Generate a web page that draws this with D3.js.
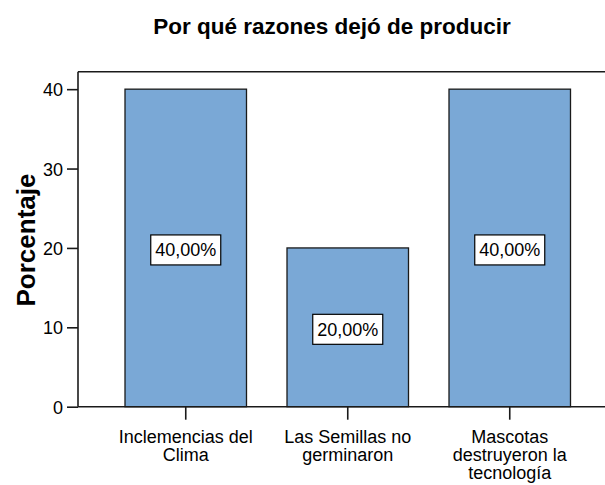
<!DOCTYPE html>
<html><head><meta charset="utf-8">
<script src="https://cdn.jsdelivr.net/npm/d3@7"></script>
<style>body{margin:0;background:#fff}svg{display:block}text{font-family:"Liberation Sans",Arial,sans-serif}</style>
</head><body>
<svg id="c" width="605" height="485"></svg>
<script>
const categories = ["Inclemencias del Clima","Las Semillas no germinaron","Mascotas destruyeron la tecnología"];
const categoryLines = [["Inclemencias del","Clima"],["Las Semillas no","germinaron"],["Mascotas","destruyeron la","tecnología"]];
const values = [40, 20, 40];
const valueLabels = ["40,00%","20,00%","40,00%"];
const yTicks = [0,10,20,30,40];
const title = "Por qué razones dejó de producir";
const yTitle = "Porcentaje";

(function(){
const svg = d3.select("#c");
const pLeft = 78, pTop = 71.7, pBottom = 406.7, pRight = 610;
const y = d3.scaleLinear().domain([0, 42.2]).range([pBottom, pTop]);
const x = d3.scaleBand().domain(categories).range([104.75, 590.75]).paddingInner(0.25).paddingOuter(0.125);

// bars
svg.selectAll("rect.bar").data(values).enter().append("rect")
  .attr("class","bar")
  .attr("x",(d,i)=>x(categories[i]))
  .attr("width",x.bandwidth())
  .attr("y",d=>y(d))
  .attr("height",d=>y(0)-y(d))
  .attr("fill","#7aa8d6").attr("stroke","#1a1a1a").attr("stroke-width",1.3);

// frame
svg.append("line").attr("x1",pLeft).attr("x2",pRight).attr("y1",pTop).attr("y2",pTop).attr("stroke","#1a1a1a").attr("stroke-width",1.6);

// y axis
const ya = svg.append("g").attr("transform",`translate(${pLeft},0)`)
  .call(d3.axisLeft(y).tickValues(yTicks).tickSize(11).tickPadding(4).tickFormat(d3.format("d")));
ya.select(".domain").remove();
ya.append("line").attr("x1",0).attr("x2",0).attr("y1",pTop).attr("y2",pBottom).attr("stroke","#1a1a1a").attr("stroke-width",1.6);
ya.selectAll(".tick line").attr("stroke","#1a1a1a").attr("stroke-width",1.6);
ya.selectAll(".tick text").attr("font-size",18).attr("fill","#000").attr("font-family","Liberation Sans, Arial, sans-serif").attr("dy","0.36em");

// x axis
const xa = svg.append("g").attr("transform",`translate(0,${pBottom})`)
  .call(d3.axisBottom(x).tickSize(13).tickFormat(""));
xa.select(".domain").remove();
xa.append("line").attr("x1",pLeft).attr("x2",pRight).attr("y1",0).attr("y2",0).attr("stroke","#1a1a1a").attr("stroke-width",1.6);
xa.selectAll(".tick line").attr("stroke","#1a1a1a").attr("stroke-width",1.6);

// x labels
categories.forEach((c,i)=>{
  categoryLines[i].forEach((ln,j)=>{
    svg.append("text").attr("text-anchor","middle").attr("font-size",18).attr("fill","#000")
      .attr("x",x(c)+x.bandwidth()/2).attr("y",443+j*17.8).text(ln);
  });
});

// value labels
values.forEach((v,i)=>{
  const cx = x(categories[i])+x.bandwidth()/2, cy = y(v/2)+2;
  const g = svg.append("g");
  g.append("rect").attr("x",cx-35).attr("y",cy-15).attr("width",70).attr("height",30).attr("fill","#fff").attr("stroke","#000").attr("stroke-width",1.2);
  g.append("text").attr("x",cx).attr("y",cy+6.5).attr("text-anchor","middle").attr("font-size",18).attr("fill","#000").text(valueLabels[i]);
});

// titles
svg.append("text").attr("x",332).attr("y",34).attr("text-anchor","middle").attr("font-size",22.5).attr("font-weight","bold").text(title);
svg.append("text").attr("transform","translate(35,240) rotate(-90)").attr("text-anchor","middle").attr("font-size",26).attr("font-weight","bold").text(yTitle);
})();
</script>
</body></html>
